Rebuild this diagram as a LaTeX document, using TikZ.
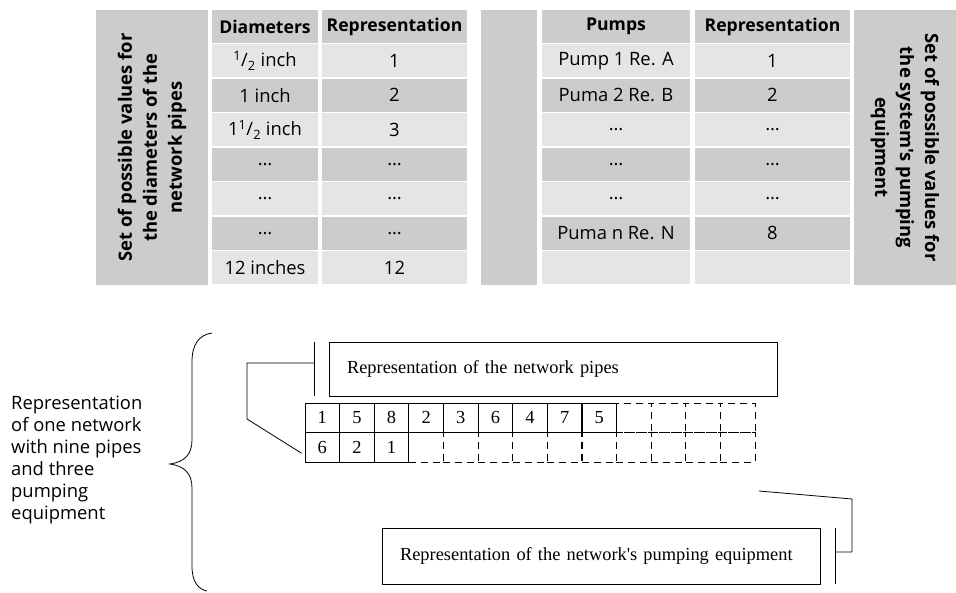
\documentclass[tikz,border=0pt]{standalone}
\usepackage{fontspec}
\setmainfont{Liberation Serif}
\newfontfamily\boxfont{Liberation Serif}
\newfontfamily\tabfont{Open Sans}
\begin{document}
\begin{tikzpicture}[x=1pt,y=-1pt,
  tcell/.style={inner sep=0pt, draw=none, minimum height=33, font=\tabfont\fontsize{18.4}{20}\selectfont},
  dk/.style={tcell, fill=gray!40},
  lt/.style={tcell, fill=gray!20},
  hd/.style={dk, font=\tabfont\bfseries\fontsize{17.6}{20}\selectfont},
  side/.style={fill=gray!40, inner sep=0pt, font=\tabfont\bfseries\fontsize{18.4}{25}\selectfont, align=center},
  gcell/.style={inner sep=0pt, minimum width=34.615, minimum height=29.5, font=\boxfont\fontsize{18.4}{20}\selectfont, line width=0.8pt},
  solidcell/.style={gcell, draw=black},
  dashcell/.style={gcell, draw=black, dash pattern=on 7pt off 5pt},
  lbox/.style={draw=black, line width=0.8pt, inner xsep=18pt, inner ysep=0pt, align=left, font=\boxfont\fontsize{18.4}{20}\selectfont},
  conn/.style={draw=black, line width=0.8pt}
]
\useasboundingbox (0,0) rectangle (956,592);

% ---------- left table ----------
\node[side, minimum width=275, minimum height=112, rotate=90] (sl) at (152,147.5) {Set of possible values for\\the diameters of the\\network pipes};
\node[hd, minimum width=106] (dh) at (265,26.5) {Diameters};
\node[hd, minimum width=145] (rh) at (394.5,26.5) {Representation};
\node[lt, minimum width=106] (d1) at (265,60.8) {\textsuperscript{1}/\textsubscript{2} inch};
\node[lt, minimum width=145] (r1) at (394.5,60.8) {1};
\node[dk, minimum width=106] (d2) at (265,95.25) {1 inch};
\node[dk, minimum width=145] (r2) at (394.5,95.25) {2};
\node[lt, minimum width=106] (d3) at (265,129.7) {1\textsuperscript{1}/\textsubscript{2} inch};
\node[lt, minimum width=145] (r3) at (394.5,129.7) {3};
\node[dk, minimum width=106] (d4) at (265,164.15) {\dots};
\node[dk, minimum width=145] (r4) at (394.5,164.15) {\dots};
\node[lt, minimum width=106] (d5) at (265,198.6) {\dots};
\node[lt, minimum width=145] (r5) at (394.5,198.6) {\dots};
\node[dk, minimum width=106] (d6) at (265,233.05) {\dots};
\node[dk, minimum width=145] (r6) at (394.5,233.05) {\dots};
\node[lt, minimum width=106] (d7) at (265,267.5) {12 inches};
\node[lt, minimum width=145] (r7) at (394.5,267.5) {12};

% ---------- gap column ----------
\node[side, minimum width=56, minimum height=275] (gap) at (509,147.5) {};

% ---------- right table ----------
\node[hd, minimum width=148] (ph) at (616,26.5) {Pumps};
\node[hd, minimum width=155] (qh) at (772.5,26.5) {Representation};
\node[lt, minimum width=148] (p1) at (616,60.8) {Pump 1 Re. A};
\node[lt, minimum width=155] (q1) at (772.5,60.8) {1};
\node[dk, minimum width=148] (p2) at (616,95.25) {Puma 2 Re. B};
\node[dk, minimum width=155] (q2) at (772.5,95.25) {2};
\node[lt, minimum width=148] (p3) at (616,129.7) {\dots};
\node[lt, minimum width=155] (q3) at (772.5,129.7) {\dots};
\node[dk, minimum width=148] (p4) at (616,164.15) {\dots};
\node[dk, minimum width=155] (q4) at (772.5,164.15) {\dots};
\node[lt, minimum width=148] (p5) at (616,198.6) {\dots};
\node[lt, minimum width=155] (q5) at (772.5,198.6) {\dots};
\node[dk, minimum width=148] (p6) at (616,233.05) {Puma n Re. N};
\node[dk, minimum width=155] (q6) at (772.5,233.05) {8};
\node[lt, minimum width=148] (p7) at (616,267.5) {};
\node[lt, minimum width=155] (q7) at (772.5,267.5) {};
\node[side, minimum width=275, minimum height=102, rotate=-90] (sr) at (905,147.5) {Set of possible values for\\the system's pumping\\equipment};

% ---------- left label and brace ----------
\node[anchor=north west, inner sep=0pt, align=left, font=\tabfont\fontsize{18.4}{22}\selectfont] (lab) at (11,396) {Representation\\of one network\\with nine pipes\\and three\\pumping\\equipment};
\draw[line width=0.8pt] (212,333) .. controls (199,335) and (192,344) .. (192,362) -- (192,440)
  .. controls (192,455) and (184,462) .. (170,464)
  .. controls (184,466) and (192,473) .. (192,488) -- (192,566)
  .. controls (192,582) and (198,589) .. (207,591);

% ---------- boxes ----------
\node[lbox, minimum width=448, minimum height=54, text width=412] (box1) at (553,369) {Representation of the network pipes};
\node[lbox, minimum width=438, minimum height=56, text width=402] (box2) at (601,556) {Representation of the network's pumping equipment};

% ---------- grid: dashed cells ----------
\node[dashcell] (t9) at (633.8,417.75) {};
\node[dashcell] (t10) at (668.5,417.75) {};
\node[dashcell] (t11) at (703.1,417.75) {};
\node[dashcell] (t12) at (737.7,417.75) {};
\node[dashcell] (b3) at (426.1,447.25) {};
\node[dashcell] (b4) at (460.8,447.25) {};
\node[dashcell] (b5) at (495.4,447.25) {};
\node[dashcell] (b6) at (530.0,447.25) {};
\node[dashcell] (b7) at (564.6,447.25) {};
\node[dashcell] (b8) at (599.2,447.25) {};
\node[dashcell] (b9) at (633.8,447.25) {};
\node[dashcell] (b10) at (668.5,447.25) {};
\node[dashcell] (b11) at (703.1,447.25) {};
\node[dashcell] (b12) at (737.7,447.25) {};
% ---------- grid: solid cells ----------
\node[solidcell] (t0) at (322.3,417.75) {1};
\node[solidcell] (t1) at (356.9,417.75) {5};
\node[solidcell] (t2) at (391.5,417.75) {8};
\node[solidcell] (t3) at (426.1,417.75) {2};
\node[solidcell] (t4) at (460.8,417.75) {3};
\node[solidcell] (t5) at (495.4,417.75) {6};
\node[solidcell] (t6) at (530.0,417.75) {4};
\node[solidcell] (t7) at (564.6,417.75) {7};
\node[solidcell] (t8) at (599.2,417.75) {5};
\node[solidcell] (b0) at (322.3,447.25) {6};
\node[solidcell] (b1) at (356.9,447.25) {2};
\node[solidcell] (b2) at (391.5,447.25) {1};

% ---------- connectors ----------
\coordinate (k1a) at ([xshift=-14]box1.north west);
\coordinate (k1b) at ([xshift=-14]box1.south west);
\coordinate (k1m) at (315,363);
\coordinate (k1c) at (247,363);
\coordinate (k1d) at (247,419);
\draw[conn] (k1a) -- (k1b);
\draw[conn] (k1m) -- (k1c) -- (k1d) -- ([shift={(-3,6)}]b0.west);

\coordinate (k2a) at ([xshift=15]box2.north east);
\coordinate (k2b) at ([xshift=15]box2.south east);
\coordinate (k2m) at (835,552);
\coordinate (k2c) at (852,552);
\coordinate (k2d) at (852,499);
\coordinate (k2e) at (759,491);
\draw[conn] (k2a) -- (k2b);
\draw[conn] (k2m) -- (k2c) -- (k2d) -- (k2e);
\end{tikzpicture}
\end{document}
